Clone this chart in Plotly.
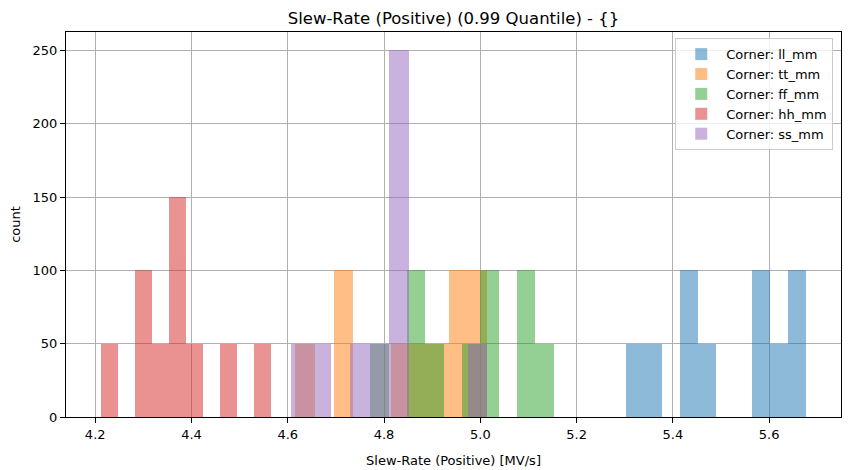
import numpy as np
import plotly.graph_objects as go

# histogram data: 10 equal bins per corner between lo and hi
corners = ["ll_mm", "tt_mm", "ff_mm", "hh_mm", "ss_mm"]
colours = ["#1f77b4", "#ff7f0e", "#2ca02c", "#d62728", "#9467bd"]

ll_range = (5.3019, 5.6760)
ll_counts = [50, 50, 0, 100, 50, 0, 0, 100, 50, 100]

tt_range = (4.6158, 5.0143)
tt_counts = [50, 0, 100, 0, 0, 50, 50, 50, 100, 100]

ff_range = (4.7717, 5.1522)
ff_counts = [50, 0, 100, 50, 0, 50, 100, 0, 100, 50]

hh_range = (4.2125, 4.5659)
hh_counts = [50, 0, 100, 50, 150, 50, 0, 50, 0, 50]

ss_range = (4.6075, 5.0143)
ss_counts = [50, 50, 0, 50, 50, 250, 0, 0, 0, 50]

x_ticks = [4.2, 4.4, 4.6, 4.8, 5.0, 5.2, 5.4, 5.6]
y_ticks = [0, 50, 100, 150, 200, 250]

series = {
    "ll_mm": (ll_range, ll_counts),
    "tt_mm": (tt_range, tt_counts),
    "ff_mm": (ff_range, ff_counts),
    "hh_mm": (hh_range, hh_counts),
    "ss_mm": (ss_range, ss_counts),
}

font = "DejaVu Sans"
fig = go.Figure()

lo_all = min(r[0] for r, _ in series.values())
hi_all = max(r[1] for r, _ in series.values())
pad = 0.05 * (hi_all - lo_all)

for corner, colour in zip(corners, colours):
    (lo, hi), counts = series[corner]
    edges = np.linspace(lo, hi, len(counts) + 1)
    centres = (edges[:-1] + edges[1:]) / 2
    width = edges[1] - edges[0]
    fig.add_trace(go.Bar(
        x=centres,
        y=counts,
        width=[width] * len(counts),
        name=f"Corner: {corner}",
        marker_color=colour,
        marker_line_width=0,
        opacity=0.5,
    ))

# the page body keeps its default 8px margin, so the figure is 8px smaller
fig.update_layout(
    width=842,
    height=462,
    margin=dict(l=58, r=9, t=24, b=53, autoexpand=False),
    barmode="overlay",
    bargap=0,
    plot_bgcolor="white",
    paper_bgcolor="white",
    font=dict(family=font, size=13, color="black"),
    title=dict(
        text="Slew-Rate (Positive) (0.99 Quantile) - {}",
        x=0.5, xanchor="center", y=0.978, yanchor="middle",
        xref="paper",
        font=dict(size=16.5),
    ),
    legend=dict(
        x=0.99, y=0.984, xanchor="right", yanchor="top",
        bgcolor="rgba(255,255,255,0.8)",
        bordercolor="#cccccc", borderwidth=1,
        font=dict(size=13),
        tracegroupgap=0,
        itemwidth=40,
    ),
    showlegend=True,
)

axis_common = dict(
    showline=True, linecolor="black", linewidth=1, mirror=True,
    ticks="outside", ticklen=5, tickcolor="black",
    tickfont=dict(size=13),
    showgrid=True, gridcolor="#b0b0b0", gridwidth=1,
    zeroline=False, automargin=False,
)
fig.update_xaxes(
    range=[lo_all - pad, hi_all + pad],
    tickvals=x_ticks, tickformat=".1f",
    title=dict(text="Slew-Rate (Positive) [MV/s]", font=dict(size=13)),
    **axis_common,
)
fig.update_yaxes(
    range=[0, 262.5],
    tickvals=y_ticks,
    title=dict(text="count", font=dict(size=13)),
    **axis_common,
)

fig.write_html("out.html")
